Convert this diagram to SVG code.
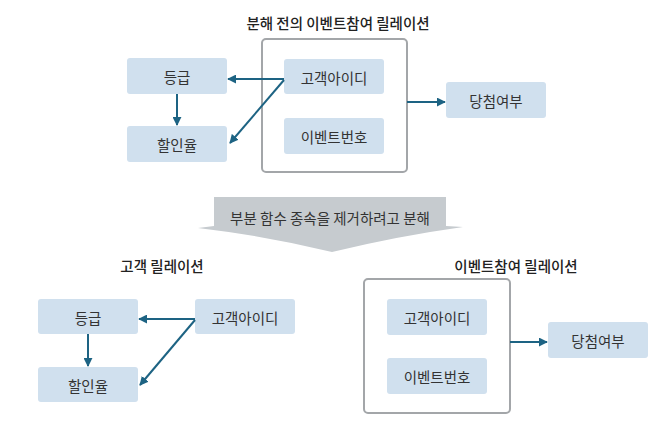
<svg xmlns="http://www.w3.org/2000/svg" width="663" height="423" viewBox="0 0 663 423">
<defs>
<style>
.node rect{fill:#d0e0ee;}
.lbl{font-family:"Noto Sans CJK KR","Noto Sans",sans-serif;font-size:14.5px;fill:#333;text-anchor:middle;dominant-baseline:central;}
.title{font-family:"Noto Sans CJK KR","Noto Sans",sans-serif;font-size:14.5px;font-weight:500;fill:#222;text-anchor:middle;dominant-baseline:central;}
.frame{fill:#fff;stroke:#a3a6a9;stroke-width:2;}
.conn line{stroke:#1d6383;stroke-width:2;fill:none;marker-end:url(#ah);}
</style>
<marker id="ah" viewBox="0 0 10 10" refX="9" refY="5" markerWidth="4.5" markerHeight="4.5" orient="auto" markerUnits="strokeWidth">
<path d="M0,0 L10,5 L0,10 Z" fill="#1d6383"/>
</marker>
</defs>
<rect width="663" height="423" fill="#fff"/>

<text class="title" x="338" y="22">분해 전의 이벤트참여 릴레이션</text>
<rect id="frame1" class="frame" x="262" y="39" width="145" height="133" rx="4"/>

<g id="n1-grade" class="node"><rect x="127" y="58" width="100" height="36" rx="3"/><text class="lbl" x="177" y="76">등급</text></g>
<g id="n1-discount" class="node"><rect x="127" y="126" width="100" height="36" rx="3"/><text class="lbl" x="177" y="144">할인율</text></g>
<g id="n1-cust" class="node"><rect x="284" y="59" width="100" height="35" rx="3"/><text class="lbl" x="334" y="77">고객아이디</text></g>
<g id="n1-event" class="node"><rect x="284" y="118" width="100" height="36" rx="3"/><text class="lbl" x="334" y="136">이벤트번호</text></g>
<g id="n1-win" class="node"><rect x="446" y="82" width="100" height="36" rx="3"/><text class="lbl" x="496" y="100">당첨여부</text></g>

<g id="big-arrow">
<path d="M214,197 H446 V226 L463,227 Q398,236 332,252 Q266,236 198,228 L214,226 Z" fill="#c6cbcf"/>
<text class="lbl" x="330" y="217">부분 함수 종속을 제거하려고 분해</text>
</g>

<text class="title" x="162" y="265">고객 릴레이션</text>
<g id="n2-grade" class="node"><rect x="38" y="299" width="100" height="35" rx="3"/><text class="lbl" x="88" y="317">등급</text></g>
<g id="n2-discount" class="node"><rect x="38" y="367" width="100" height="35" rx="3"/><text class="lbl" x="88" y="385">할인율</text></g>
<g id="n2-cust" class="node"><rect x="195" y="299" width="100" height="35" rx="3"/><text class="lbl" x="245" y="317">고객아이디</text></g>

<text class="title" x="516" y="265">이벤트참여 릴레이션</text>
<rect id="frame2" class="frame" x="364" y="279" width="146" height="134" rx="4"/>
<g id="n3-cust" class="node"><rect x="387" y="299" width="100" height="36" rx="3"/><text class="lbl" x="437" y="317">고객아이디</text></g>
<g id="n3-event" class="node"><rect x="387" y="358" width="100" height="36" rx="3"/><text class="lbl" x="437" y="376">이벤트번호</text></g>
<g id="n3-win" class="node"><rect x="548" y="322" width="100" height="36" rx="3"/><text class="lbl" x="598" y="340">당첨여부</text></g>

<g id="connectors" class="conn">
<line x1="284" y1="79" x2="228" y2="79"/>
<line x1="284" y1="80" x2="230" y2="143"/>
<line x1="177" y1="94" x2="177" y2="125"/>
<line x1="407" y1="102" x2="445" y2="102"/>
<line x1="195" y1="319" x2="139" y2="319"/>
<line x1="195" y1="320" x2="140" y2="385"/>
<line x1="88" y1="334" x2="88" y2="366"/>
<line x1="510" y1="342" x2="547" y2="342"/>
</g>
</svg>
